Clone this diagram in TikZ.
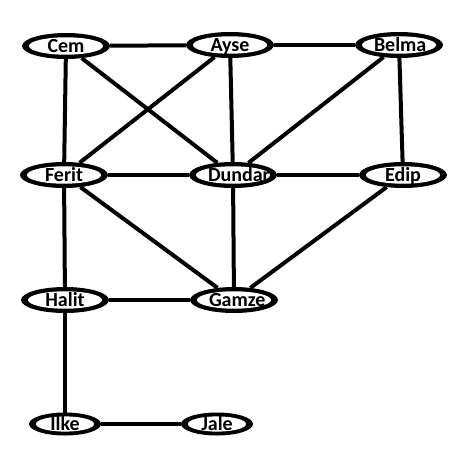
\documentclass[tikz,border=0pt]{standalone}
\usepackage{fontspec}
\setmainfont{Carlito}
\usetikzlibrary{shapes.geometric}
\begin{document}
\begin{tikzpicture}[x=1pt,y=-1pt,
  person/.style={ellipse,fill=black,draw=none,inner sep=0pt,outer sep=0pt,
    text width=50pt,align=center,text height=12.5pt,text depth=0pt,
    minimum width=88pt,minimum height=26pt,
    font=\fontsize{20}{22}\selectfont\bfseries,
    path picture={\fill[white] (path picture bounding box.center)
      ellipse [x radius=37pt, y radius=8.7pt];}},
  small/.style={minimum width=72pt,minimum height=23pt,
    path picture={\fill[white] (path picture bounding box.center)
      ellipse [x radius=29pt, y radius=7.6pt];}},
  link/.style={line width=4pt}]
\useasboundingbox (0,0) rectangle (465,460);
\node[person] (cem) at (66,46) {Cem};
\node[person] (ayse) at (230,45) {Ayse};
\node[person] (belma) at (399,45) {Belma};
\node[person] (ferit) at (64,175) {Ferit};
\node[person] (dundar) at (233,175) {Dundar};
\node[person] (edip) at (403,175) {Edip};
\node[person] (halit) at (65,300) {Halit};
\node[person] (gamze) at (234,300) {Gamze};
\node[person,small] (ilke) at (65,424) {Ilke};
\node[person,small] (jale) at (217,424) {Jale};
\draw[link] (cem) -- (ayse);
\draw[link] (cem) -- (ferit);
\draw[link] (cem) -- (dundar);
\draw[link] (ayse) -- (belma);
\draw[link] (ayse) -- (ferit);
\draw[link] (ayse) -- (dundar);
\draw[link] (belma) -- (dundar);
\draw[link] (belma) -- (edip);
\draw[link] (ferit) -- (dundar);
\draw[link] (dundar) -- (edip);
\draw[link] (ferit) -- (halit);
\draw[link] (ferit) -- (gamze);
\draw[link] (dundar) -- (gamze);
\draw[link] (edip) -- (gamze);
\draw[link] (halit) -- (gamze);
\draw[link] (halit) -- (ilke);
\draw[link] (ilke) -- (jale);
\end{tikzpicture}
\end{document}
